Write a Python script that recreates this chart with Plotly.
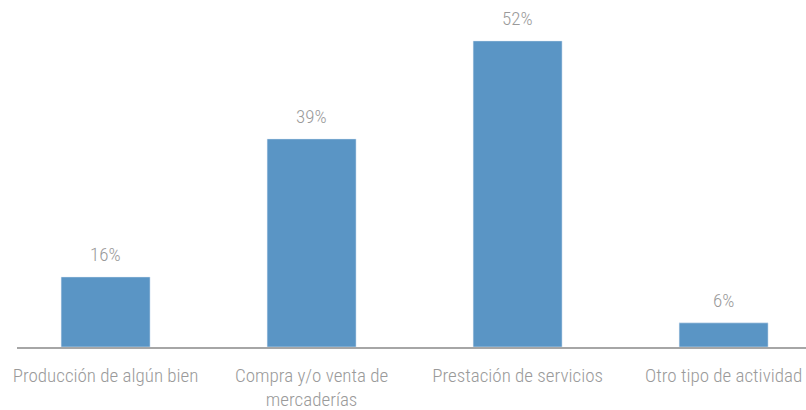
import plotly.graph_objects as go

categories = ["Producción de algún bien", "Compra y/o venta de<br>mercaderías",
              "Prestación de servicios", "Otro tipo de actividad"]
# bar heights as drawn in the picture (percent units)
bar_values = [11.9, 35.35, 52.0, 4.1]
# data labels as printed above the bars
label_texts = ["16%", "39%", "52%", "6%"]

FONT = "Roboto Condensed, Liberation Sans Narrow, sans-serif"
GREY = "#9a9a9a"
BLUE = "#5a95c5"

x_idx = list(range(len(categories)))

fig = go.Figure(go.Bar(
    x=x_idx, y=bar_values, marker_color=BLUE, width=0.432,
    hoverinfo="skip",
))

for xi, v, t in zip(x_idx, bar_values, label_texts):
    fig.add_annotation(x=xi, y=v, text=t, showarrow=False, yanchor="middle",
                       yshift=22, font=dict(family=FONT, size=19, color=GREY, weight=300))

fig.update_layout(
    width=806, height=410,
    margin=dict(l=17, r=0, t=5, b=63),
    plot_bgcolor="white", paper_bgcolor="white",
    showlegend=False,
    font=dict(family=FONT, size=19, color=GREY, weight=300),
    xaxis=dict(
        range=[-0.43, 3.40], tickmode="array", tickvals=x_idx, ticktext=categories,
        showline=True, linecolor="#a6a6a6", linewidth=1.5, ticks="",
        showgrid=False, zeroline=False, fixedrange=True, automargin=False,
        ticklabeloverflow="allow", ticklabelstandoff=10,
        tickfont=dict(family=FONT, size=19, color=GREY, weight=300),
    ),
    yaxis=dict(range=[0, 58.1], visible=False, showgrid=False, zeroline=False,
               automargin=False),
)

fig.write_html("out.html", post_script="document.body.style.margin='0';",
               config={"displayModeBar": False})
